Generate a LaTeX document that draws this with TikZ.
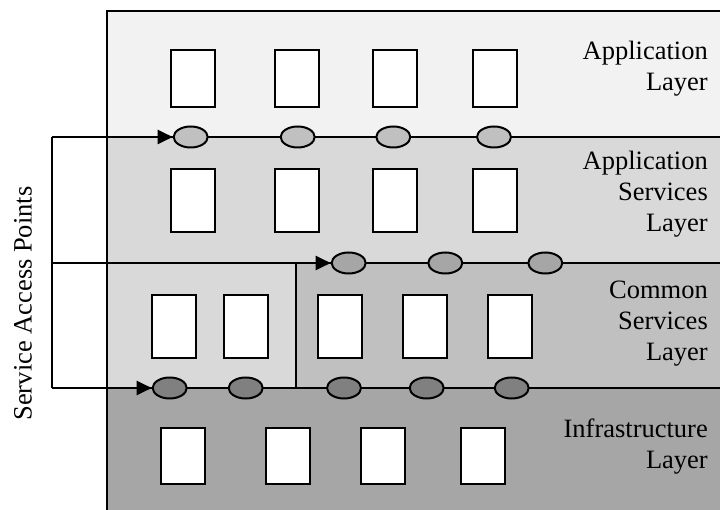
\documentclass[tikz,border=0pt]{standalone}
\usepackage{fontspec}
\setmainfont{Liberation Serif}
\usetikzlibrary{shapes.geometric,arrows.meta}

\definecolor{appfill}{HTML}{F2F2F2}
\definecolor{svcfill}{HTML}{D9D9D9}
\definecolor{cmnfill}{HTML}{C0C0C0}
\definecolor{infill}{HTML}{A6A6A6}
\definecolor{sapdark}{HTML}{808080}

\tikzset{
  edge/.style={line width=2pt},
  comp/.style={draw, line width=2pt, fill=white, minimum width=44pt, inner sep=0pt},
  sap/.style={ellipse, draw, line width=2pt, minimum width=34pt, minimum height=21pt, inner sep=0pt},
  feed/.style={edge, -{Triangle[length=15pt,width=14pt]}},
  lbl/.style={inner sep=0pt, align=right, font=\fontsize{26.5}{31}\selectfont},
}

\begin{document}
\begin{tikzpicture}[x=1pt,y=-1pt]
\useasboundingbox (0,0) rectangle (720,510);
\clip (0,0) rectangle (720,510);

% layer bands
\fill[appfill] (106.7,11) rectangle (724,137);
\fill[svcfill] (106.7,137) rectangle (724,263);
\fill[svcfill] (106.7,263) rectangle (296,388);
\fill[cmnfill] (296,263) rectangle (724,388);
\fill[infill]  (106.7,388) rectangle (724,514);

% outer frame and layer boundaries
\draw[edge] (724,11) -- (106.7,11) -- (106.7,514);
\draw[edge] (106.7,137) -- (724,137);
\draw[edge] (106.7,263) -- (724,263);
\draw[edge] (106.7,388) -- (724,388);
\draw[edge] (296,263) -- (296,388);

% application layer components
\foreach \x [count=\i] in {192.5,297.3,394.7,495.3}
  \node[comp, minimum height=56.7pt] (a\i) at (\x,78.3) {};
% application services layer components
\foreach \x [count=\i] in {192.5,297.3,394.7,495.3}
  \node[comp, minimum height=62.4pt] (s\i) at (\x,200.5) {};
% common services layer components
\foreach \x [count=\i] in {174.3,245.8,340,425,510.3}
  \node[comp, minimum height=63.3pt] (c\i) at (\x,326.7) {};
% infrastructure layer components
\foreach \x [count=\i] in {183.3,288.3,382.5,482.8}
  \node[comp, minimum height=56.3pt] (f\i) at (\x,455.8) {};

% service access points
\foreach \x [count=\i] in {190.7,297.7,393.3,494}
  \node[sap, fill=cmnfill] (p\i) at (\x,137) {};
\foreach \x [count=\i] in {348.7,445.3,545.3}
  \node[sap, fill=infill] (q\i) at (\x,263) {};
\foreach \x [count=\i] in {169.7,245.7,344,426.7,511.7}
  \node[sap, fill=sapdark] (r\i) at (\x,388) {};

% access bracket on the left
\coordinate (jt) at (52,137);
\coordinate (jm) at (52,263);
\coordinate (jb) at (52,388);
\draw[edge] (jt) -- (jb);
\draw[feed] (jt) -- (p1.west);
\draw[feed] (jm) -- (q1.west);
\draw[feed] (jb) -- (r1.west);

% layer names (anchored on the baseline of the last line)
\node[lbl, anchor=base east] (tA) at (708,90.7) {Application\\Layer};
\node[lbl, anchor=base east] (tS) at (708,231.7) {Application\\Services\\Layer};
\node[lbl, anchor=base east] (tC) at (708,360) {Common\\Services\\Layer};
\node[lbl, anchor=base east] (tI) at (708,468.3) {Infrastructure\\Layer};

\node[lbl, rotate=90, anchor=base] (tP) at (31.7,303.5) {Service Access Points};
\end{tikzpicture}
\end{document}
